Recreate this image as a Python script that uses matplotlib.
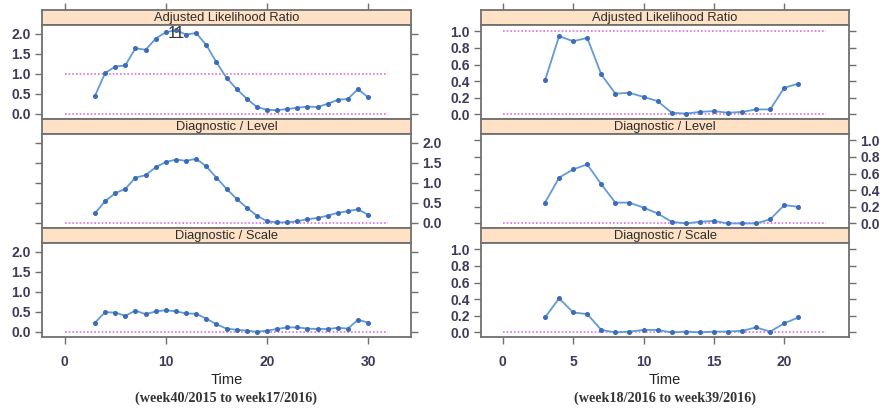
import matplotlib
matplotlib.use("Agg")
import matplotlib.pyplot as plt

plt.rcParams["font.family"] = ["Liberation Sans", "DejaVu Sans"]

STRIP_TITLES = ["Adjusted Likelihood Ratio", "Diagnostic / Level", "Diagnostic / Scale"]

# season 1: week40/2015 to week17/2016
weeks_a = list(range(3, 31))
alr_a = [0.45, 1.02, 1.18, 1.21, 1.64, 1.60, 1.88, 2.04, 2.09, 1.98,
         2.02, 1.72, 1.29, 0.90, 0.62, 0.38, 0.17, 0.10, 0.09, 0.12,
         0.15, 0.18, 0.17, 0.25, 0.35, 0.37, 0.62, 0.41]
level_a = [0.24, 0.54, 0.74, 0.85, 1.13, 1.19, 1.39, 1.52, 1.58, 1.55,
           1.60, 1.41, 1.13, 0.85, 0.60, 0.38, 0.18, 0.04, 0.01, 0.01,
           0.04, 0.09, 0.12, 0.18, 0.25, 0.29, 0.34, 0.20]
scale_a = [0.23, 0.49, 0.48, 0.40, 0.53, 0.44, 0.51, 0.54, 0.51, 0.46,
           0.45, 0.33, 0.19, 0.08, 0.05, 0.03, 0.00, 0.03, 0.07, 0.11,
           0.11, 0.08, 0.07, 0.07, 0.10, 0.08, 0.30, 0.23]
xticks_a = [0, 10, 20, 30]
yticks_a = [0.0, 0.5, 1.0, 1.5, 2.0]
refs_a = [[0.0, 1.0], [0.0], [0.0]]
ref_span_a = (0, 32)
flag_week_a = 11          # labelled week on the ALR curve
subtitle_a = "(week40/2015 to week17/2016)"

# season 2: week18/2016 to week39/2016
weeks_b = list(range(3, 22))
alr_b = [0.41, 0.94, 0.88, 0.92, 0.48, 0.25, 0.26, 0.21, 0.16, 0.02,
         0.01, 0.03, 0.04, 0.02, 0.03, 0.06, 0.06, 0.32, 0.37]
level_b = [0.25, 0.55, 0.65, 0.71, 0.47, 0.25, 0.25, 0.19, 0.12, 0.02,
           0.00, 0.02, 0.03, 0.00, 0.00, 0.00, 0.05, 0.22, 0.20]
scale_b = [0.18, 0.41, 0.24, 0.22, 0.03, 0.00, 0.01, 0.03, 0.03, 0.00,
           0.01, 0.00, 0.01, 0.01, 0.02, 0.06, 0.01, 0.11, 0.18]
xticks_b = [0, 5, 10, 15, 20]
yticks_b = [0.0, 0.2, 0.4, 0.6, 0.8, 1.0]
refs_b = [[0.0, 1.0], [0.0], [0.0]]
ref_span_b = (0, 23)
subtitle_b = "(week18/2016 to week39/2016)"

W, H = 883, 411
FRAME = "#707070"
STRIP_BG = "#ffe2c6"
LINE = "#619bd9"
DOT = "#3b6cb8"
REF = "#e070e0"
TICK_TXT = "#3e3a58"


def add_px_axes(fig, left, top, width, height):
    return fig.add_axes([left / W, 1 - (top + height) / H, width / W, height / H])


def style_frame(ax):
    for sp in ax.spines.values():
        sp.set_color(FRAME)
        sp.set_linewidth(1.3)


def draw_column(fig, left, width, weeks, series, xticks, xlim, yticks, ylim,
                refs, ref_span, subtitle, flag_week=None):
    for i, (title, vals) in enumerate(zip(STRIP_TITLES, series)):
        top = 10 + i * 109
        strip = add_px_axes(fig, left, top, width, 15)
        strip.set_facecolor(STRIP_BG)
        style_frame(strip)
        strip.set_xlim(xlim)
        strip.set_yticks([])
        if i == 0:
            strip.xaxis.tick_top()
            strip.set_xticks(xticks)
            strip.set_xticklabels([])
            strip.tick_params(axis="x", direction="out", length=5, width=1, color=FRAME)
        else:
            strip.set_xticks([])
        strip.text(0.5, 0.45, title, transform=strip.transAxes, ha="center",
                   va="center", fontsize=9.3, color="#2b2b2b")

        ax = add_px_axes(fig, left, top + 15, width, 94)
        style_frame(ax)
        for r in refs[i]:
            ax.plot(ref_span, [r, r], color=REF, lw=1.2, ls=(0, (1, 1.2)))
        ax.plot(weeks, vals, color=LINE, lw=1.3, marker="o", ms=2.6,
                mfc=DOT, mec=DOT, zorder=3)
        if flag_week is not None and i == 0:
            k = weeks.index(flag_week)
            ax.text(flag_week, vals[k] - 0.07, str(flag_week), ha="center",
                    va="center", fontsize=12, color="#333333", zorder=4)
        ax.set_xlim(xlim)
        ax.set_ylim(ylim)
        ax.set_yticks(yticks)
        ax.set_yticklabels([f"{v:.1f}" for v in yticks])
        ax.yaxis.set_ticks_position("both")
        ax.tick_params(axis="y", direction="out", length=5, width=1, color=FRAME,
                       labelsize=10, labelcolor=TICK_TXT, pad=3,
                       labelleft=(i != 1), labelright=(i == 1))
        for lab in ax.get_yticklabels():
            lab.set_fontweight("bold")
        if i == 2:
            ax.set_xticks(xticks)
            ax.tick_params(axis="x", direction="out", length=5, width=1, color=FRAME,
                           labelsize=10, labelcolor=TICK_TXT, pad=8)
            for lab in ax.get_xticklabels():
                lab.set_fontweight("bold")
        else:
            ax.set_xticks([])

    cx = (left + width / 2) / W
    fig.text(cx, 1 - 380 / H, "Time", ha="center", va="center",
             fontsize=10.5, color="#222222")
    fig.text(cx, 1 - 398 / H, subtitle, ha="center", va="center",
             fontsize=10.2, fontweight="bold", color="#333333",
             family=["Liberation Serif", "DejaVu Serif"])


fig = plt.figure(figsize=(W / 100, H / 100), dpi=100)

draw_column(fig, 42, 369, weeks_a, [alr_a, level_a, scale_a], xticks_a,
            (-2.24, 34.24), yticks_a, (-0.13, 2.22), refs_a, ref_span_a,
            subtitle_a, flag_week=flag_week_a)
draw_column(fig, 481, 368, weeks_b, [alr_b, level_b, scale_b], xticks_b,
            (-1.55, 24.6), yticks_b, (-0.055, 1.075), refs_b, ref_span_b,
            subtitle_b)

fig.savefig("out.png", dpi=100)
